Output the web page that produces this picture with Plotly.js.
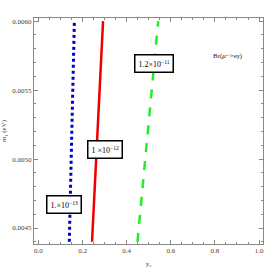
<!DOCTYPE html>
<html><head><meta charset="utf-8">
<script src="https://cdn.plot.ly/plotly-3.0.1.min.js"></script>
<style>body{margin:0;background:#fff}</style>
</head><body><div id="c" style="width:273px;height:272px"></div>
<script>
const ySpan = [0.00440, 0.00600];
const blueX = [0.140, 0.163];
const redX = [0.243, 0.293];
const greenX = [0.449, 0.543];
const labels = ["1.×10<sup>−13</sup>", "1 ×10<sup>−12</sup>", "1.2×10<sup>−11</sup>"];
const labelPos = [[0.115, 0.00467], [0.303, 0.00507], [0.524, 0.00569]];

const traces = [
  {x: blueX, y: ySpan, mode: 'lines', line: {color: '#0000cc', width: 3, dash: 'dot'}},
  {x: redX, y: ySpan, mode: 'lines', line: {color: '#ee0000', width: 2.5}},
  {x: greenX, y: ySpan, mode: 'lines', line: {color: '#22ee22', width: 2.5, dash: 'dash'}}
];
const ann = labels.map((t, i) => ({
  x: labelPos[i][0], y: labelPos[i][1], text: t, showarrow: false,
  font: {family: 'Liberation Serif', size: 8, color: '#000'},
  bgcolor: '#fff', bordercolor: '#000', borderwidth: 1.5, borderpad: 3
}));
ann.push({x: 0.86, y: 0.00575, text: 'Br(<i>μ</i>−>e<i>γ</i>)', showarrow: false,
  font: {family: 'Liberation Serif', size: 7, color: '#222'}});
const axCommon = {
  showline: true, linecolor: '#888', linewidth: 1, mirror: 'ticks',
  ticks: 'inside', ticklen: 4, tickcolor: '#888', showgrid: false, zeroline: false,
  tickfont: {family: 'Liberation Serif', size: 7, color: '#444'}
};
const layout = {
  width: 273, height: 272,
  margin: {l: 34, r: 10, t: 18, b: 28},
  showlegend: false,
  paper_bgcolor: '#fff', plot_bgcolor: '#fff',
  xaxis: Object.assign({}, axCommon, {range: [-0.02, 1.018], dtick: 0.2, tick0: 0, tickformat: '.1f',
    minor: {ticks: 'inside', dtick: 0.05, ticklen: 2, tickcolor: '#888'},
    title: {text: 'y<sub>ν</sub>', font: {family: 'Liberation Serif', size: 7, color: '#444'}, standoff: 6}}),
  yaxis: Object.assign({}, axCommon, {range: [0.004384, 0.006023], dtick: 0.0005, tick0: 0, tickformat: '.4f',
    minor: {ticks: 'inside', dtick: 0.0001, ticklen: 2, tickcolor: '#888'},
    title: {text: '<i>m</i><sub>1</sub> (eV)', font: {family: 'Liberation Serif', size: 7, color: '#444'}, standoff: 4}}),
  annotations: ann
};
Plotly.newPlot('c', traces, layout, {displayModeBar: false, staticPlot: true});
</script></body></html>
